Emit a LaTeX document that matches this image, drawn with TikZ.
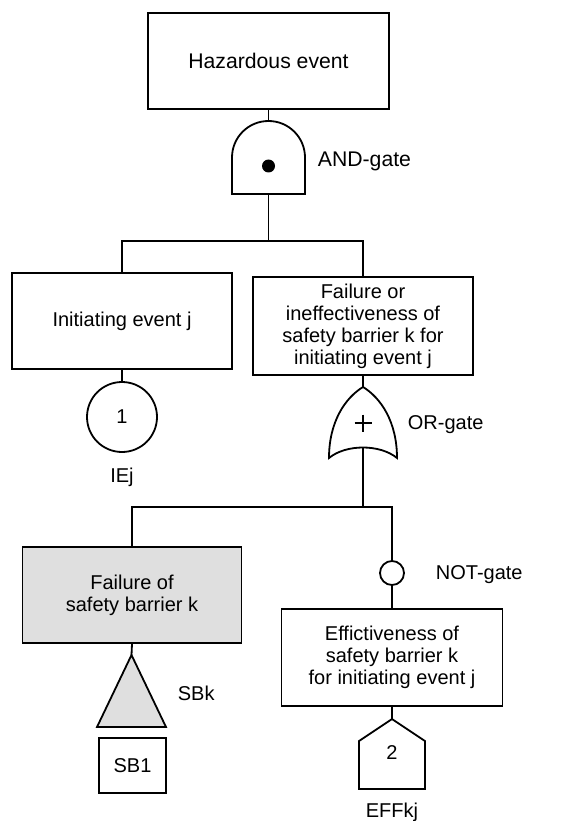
\documentclass[tikz,border=0pt]{standalone}
\usepackage{fontspec}
\setmainfont{Liberation Sans}
\begin{document}
\begin{tikzpicture}[x=1pt,y=-1pt,line width=1.8pt,
  txt/.style={font=\fontsize{20}{22}\selectfont},
  bigtxt/.style={font=\fontsize{21.2}{23}\selectfont},
  box/.style={draw,rectangle,inner sep=0pt,align=center,txt},
  lbl/.style={inner sep=0pt,txt},
  greyfill/.style={fill=gray!25}]
\useasboundingbox (0,0) rectangle (571,821);
% boxes
\node[box,bigtxt,minimum width=241pt,minimum height=96pt] (haz) at (268.5,61) {Hazardous event};
\node[box,minimum width=220pt,minimum height=96pt] (ie) at (122,321) {Initiating event j};
\node[box,minimum width=220pt,minimum height=98pt] (fail) at (363,326) {Failure or\\ineffectiveness of\\safety barrier k for\\initiating event j};
\node[box,greyfill,minimum width=219pt,minimum height=96pt] (sbf) at (132,595) {Failure of\\safety barrier k};
\node[box,minimum width=221pt,minimum height=97pt] (eff) at (392,657.5) {Effictiveness of\\safety barrier k\\for initiating event j};
\node[box,minimum width=67pt,minimum height=55pt] (sb1) at (132.5,765.5) {SB1};
% AND gate
\draw (268.5,194) -- (232,194) -- (232,157.5) arc[start angle=180,end angle=0,radius=36.5pt] -- (305,194) -- cycle;
\coordinate (andtop) at (268.5,121);
\coordinate (andbot) at (268.5,194);
\fill (268.5,166) circle[radius=6.5pt];
\node[lbl,bigtxt,anchor=west] (andlbl) at (317,161) {AND-gate};
% initiating event circle
\node[draw,circle,minimum size=70pt,inner sep=0pt,txt] (c1) at (122,417) {1};
\node[lbl] (iej) at (122,477) {IEj};
% OR gate
\coordinate (ortop) at (363,387);
\coordinate (orbot) at (363,447.5);
\draw (ortop) .. controls (345,398) and (329,422) .. (329,458)
      .. controls (346,444) and (380,444) .. (397,458)
      .. controls (397,422) and (381,398) .. (ortop) -- cycle;
\draw (363,414.5) -- (363,431.5) (354.5,423) -- (371.5,423);
\node[lbl,anchor=west] (orlbl) at (407,425) {OR-gate};
% NOT gate
\node[draw,circle,minimum size=24pt,inner sep=0pt] (notg) at (392,573) {};
\node[lbl,anchor=west] (notlbl) at (435,575) {NOT-gate};
% transfer triangle
\coordinate (tritop) at (131.5,655);
\draw[greyfill] (tritop) -- (166,727) -- (97,727) -- cycle;
\node[lbl,anchor=west] (sbk) at (177,693) {SBk};
% house event
\coordinate (housetop) at (392,719);
\draw (housetop) -- (425,741) -- (425,789) -- (359,789) -- (359,741) -- cycle;
\node[lbl] (two) at (392,753) {2};
\node[lbl] (effkj) at (392,812) {EFFkj};
% junctions
\coordinate (j1) at (268.5,241);
\coordinate (j2) at (363,507);
% connectors
\draw (haz.south) -- (andtop);
\draw (andbot) -- (j1);
\draw (ie.north) |- (j1) -| (fail.north);
\draw (ie.south) -- (c1.north);
\draw (fail.south) -- (ortop);
\draw (orbot) -- (j2);
\draw (sbf.north) |- (j2) -| (notg.north);
\draw (notg.south) -- (eff.north);
\draw (sbf.south) -- (tritop);
\draw (eff.south) -- (housetop);
\end{tikzpicture}
\end{document}
